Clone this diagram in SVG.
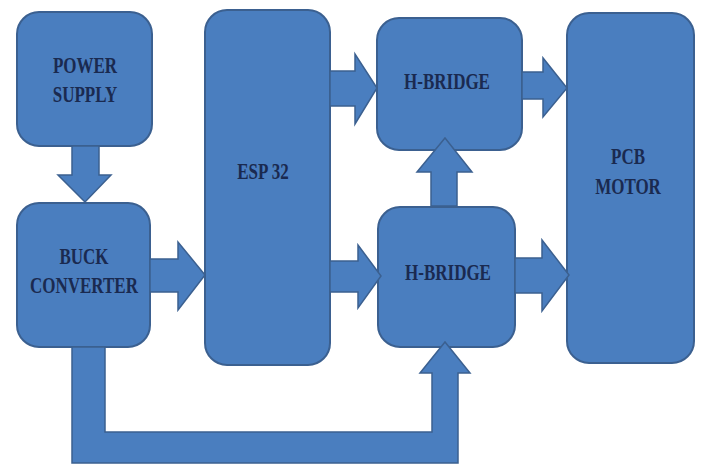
<svg xmlns="http://www.w3.org/2000/svg" width="702" height="465" viewBox="0 0 702 465">
<style>
.box{fill:#4a7ebf;stroke:#3b6090;stroke-width:2}
.arr{fill:#4a7ebf;stroke:#3b6090;stroke-width:1.5;stroke-linejoin:miter}
.t{font-family:"Liberation Serif","Times New Roman",serif;font-size:17px;font-weight:bold;fill:#1a2a50;text-anchor:middle}
</style>
<rect width="702" height="465" fill="#ffffff"/>
<g id="power-supply">
<rect class="box" x="17" y="12" width="135" height="134" rx="22"/>
<text class="t" transform="translate(85,73) scale(1,1.3)">POWER</text>
<text class="t" transform="translate(85,102) scale(1,1.3)">SUPPLY</text>
</g>
<g id="buck-converter">
<rect class="box" x="17" y="203" width="133" height="144" rx="22"/>
<text class="t" transform="translate(84,264) scale(1,1.3)">BUCK</text>
<text class="t" transform="translate(84,293) scale(1,1.3)">CONVERTER</text>
</g>
<g id="esp32">
<rect class="box" x="205" y="10" width="125" height="355" rx="22"/>
<text class="t" transform="translate(263,179) scale(1,1.3)">ESP 32</text>
</g>
<g id="h-bridge-1">
<rect class="box" x="377" y="18" width="145" height="132" rx="22"/>
<text class="t" transform="translate(447,89) scale(1,1.3)">H-BRIDGE</text>
</g>
<g id="h-bridge-2">
<rect class="box" x="378" y="207" width="137" height="140" rx="22"/>
<text class="t" transform="translate(448,280) scale(1,1.3)">H-BRIDGE</text>
</g>
<g id="pcb-motor">
<rect class="box" x="567" y="13" width="127" height="350" rx="22"/>
<text class="t" transform="translate(628,164) scale(1,1.3)">PCB</text>
<text class="t" transform="translate(628,194) scale(1,1.3)">MOTOR</text>
</g>
<g id="connectors">
<polygon class="arr" points="72,146 99,146 99,175 111,175 85,202 58,175 72,175"/>
<polygon class="arr" points="150,259 178,259 178,242 205,275 178,310 178,292 150,292"/>
<polygon class="arr" points="330,71 355,71 355,54 377,88 355,124 355,106 330,106"/>
<polygon class="arr" points="330,261 358,261 358,245 381,276 358,308 358,292 330,292"/>
<polygon class="arr" points="522,72 543,72 543,58 567,88 543,117 543,99 522,99"/>
<polygon class="arr" points="515,258 542,258 542,240 569,275 542,311 542,293 515,293"/>
<polygon class="arr" points="431,206 431,172 417,172 445,138 472,172 457,172 457,206"/>
<polygon class="arr" points="72,347 105,347 105,432 432,432 432,373 420,373 445,342 470,373 458,373 458,463 72,463"/>
</g>
</svg>
